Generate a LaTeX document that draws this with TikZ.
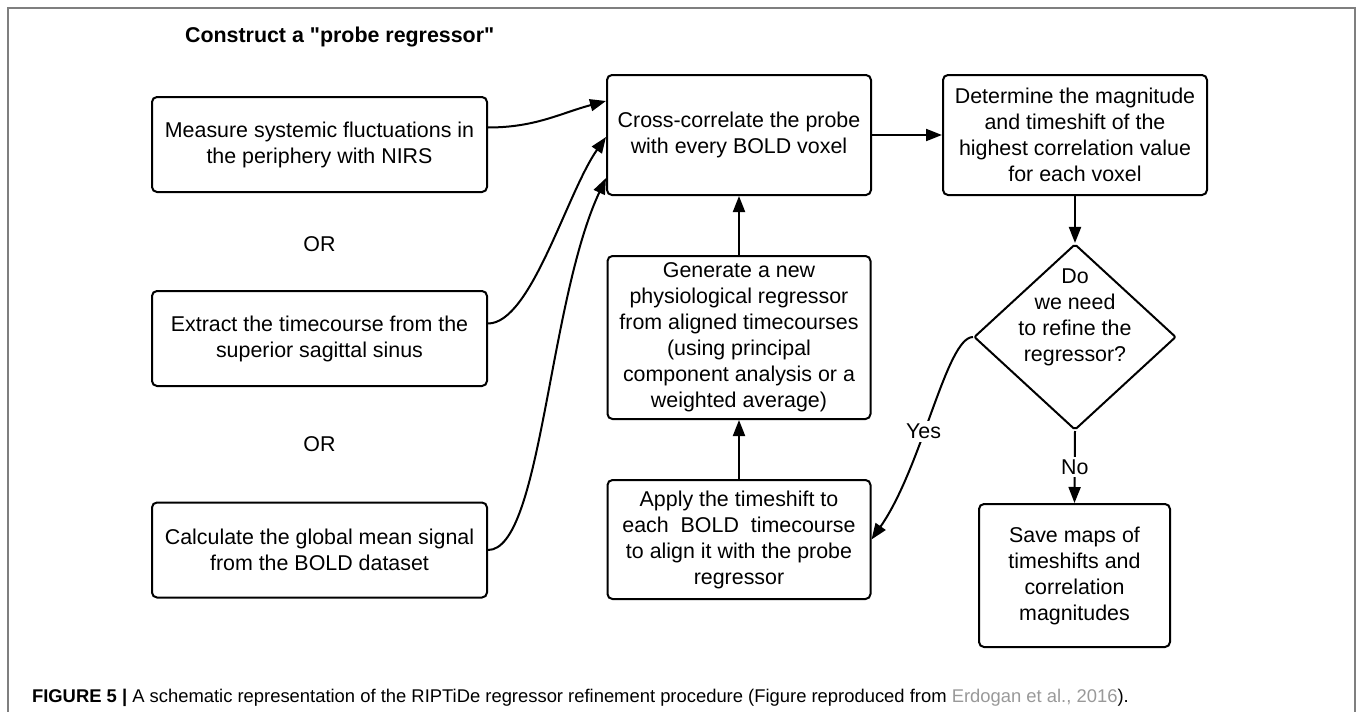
\documentclass[tikz,border=0pt]{standalone}
\usepackage{fontspec}
\setmainfont{Liberation Sans}
\usetikzlibrary{arrows.meta,shapes.geometric}
\definecolor{framegray}{HTML}{7F7F7F}
\definecolor{citegray}{HTML}{999999}

\begin{document}
\begin{tikzpicture}[x=.5pt,y=-.5pt,
    every node/.style={font=\fontsize{10.7}{13}\selectfont},
    box/.style={draw,line width=1pt,rounded corners=2.5pt,align=center,inner sep=0pt},
    flow/.style={line width=1pt,-{Triangle[length=8pt,width=6pt]}},
    tag/.style={fill=white,inner sep=1.5pt}]

      \useasboundingbox (0,0) rectangle (1357,712);
      \draw[framegray,line width=.8pt] (8,712) -- (8,8) -- (1355,8) -- (1355,712);

      % probe sources
      \node[anchor=base west,font=\bfseries\fontsize{10.7}{13}\selectfont] (title) at (178,42) {Construct a \textquotedbl probe regressor\textquotedbl};
      \foreach \n/\y/\txt in {nirs/144.5/{Measure systemic fluctuations in\\the periphery with NIRS},
          sss/338.5/{Extract the timecourse from the\\superior sagittal sinus},
          gsig/550/{Calculate the global mean signal\\from the BOLD dataset}}{
        \node[box,minimum width=167.5pt,minimum height=47.5pt] (\n) at (319.5,\y) {\txt};
      }
      \foreach \y [count=\i] in {244,444}{
        \node (or\i) at (319.5,\y) {OR};
      }

      % refinement loop
      \node[box,minimum width=132pt,minimum height=60pt] (xcorr) at (739,135) {Cross-correlate the probe\\with every BOLD voxel};
      \node[box,minimum width=132pt,minimum height=60pt] (peak) at (1075,135) {Determine the magnitude\\and timeshift of the\\highest correlation value\\for each voxel};
      \node[box,minimum width=131.5pt,minimum height=81.5pt] (regen) at (739,337.5) {Generate a new\\physiological regressor\\from aligned timecourses\\(using principal\\component analysis or a\\weighted average)};
      \node[box,minimum width=131.5pt,minimum height=59.5pt] (shift) at (739,539.5) {Apply the timeshift to\\each~ BOLD~ timecourse\\to align it with the probe\\regressor};
      \node[draw,diamond,line width=1pt,rounded corners=1pt,inner sep=0pt,minimum width=101pt,minimum height=93pt] (refine) at (1075,337) {};
      \node[align=center] (ask) at ([yshift=10pt]refine.center) {Do\\we need\\to refine the\\regressor?};
      \node[box,minimum width=95.5pt,minimum height=71.5pt] (save) at (1074.5,575.5) {Save maps of\\timeshifts and\\correlation\\magnitudes};

      % connectors
      \draw[flow] ([yshift=8.5pt]nirs.east) to[out=0,in=195] ([yshift=17pt]xcorr.west);
      \draw[flow] ([yshift=7.5pt]sss.east) to[out=0,in=235,out looseness=.5,in looseness=.8] ([yshift=-1pt]xcorr.west);
      \draw[flow] (gsig.east) to[out=0,in=245,out looseness=.35,in looseness=.9] ([yshift=-21.5pt]xcorr.west);
      \draw[flow] (xcorr) -- (peak);
      \draw[flow] (peak) -- (refine);
      \draw[flow] (shift) -- (regen);
      \draw[flow] (regen) -- (xcorr);
      \draw[flow] (refine.west) to[out=180,in=55,out looseness=.3] node[tag,pos=.58] (yes) {Yes} (shift.east);
      \draw[flow] (refine.south) -- node[tag] (no) {No} (save.north);

      % caption
      \node[anchor=base west,font=\fontsize{9.2}{11}\selectfont] (cap) at (25,702) {\textbf{FIGURE 5 |} A schematic representation of the RIPTiDe regressor refinement procedure (Figure reproduced from \textcolor{citegray}{Erdogan et al., 2016}).};

\end{tikzpicture}
\end{document}
